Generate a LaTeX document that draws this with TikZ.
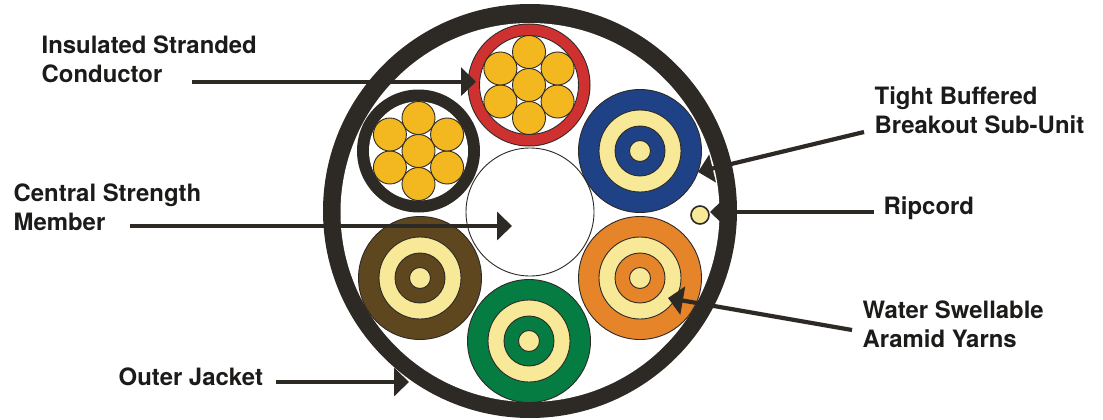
\documentclass[tikz,border=0pt]{standalone}
\usepackage{fontspec}
\setmainfont{TeX Gyre Heros}
\usetikzlibrary{arrows.meta,calc}
\definecolor{ink}{HTML}{2D2A26}
\definecolor{textink}{HTML}{1C1B1A}
\definecolor{strand}{HTML}{F3B71F}
\definecolor{cream}{HTML}{F8E998}
\definecolor{cred}{HTML}{CF3030}
\definecolor{cblue}{HTML}{1F4286}
\definecolor{corange}{HTML}{E6842A}
\definecolor{cbrown}{HTML}{5E471E}
\definecolor{cgreen}{HTML}{047C42}
\tikzset{
 x=1pt,y=-1pt,
 disc/.style={circle,draw=ink,line width=0.9pt,inner sep=0pt,outer sep=0pt,minimum size=#1*2pt},
 lbl/.style={font=\bfseries\fontsize{23.9}{29}\selectfont,text=textink,align=left,anchor=west,inner sep=0pt},
 pointer/.style={draw=ink,line width=4.2pt,-{Triangle[length=15pt,width=28pt]}},
}
\newcommand{\strands}[2]{%
 \foreach \a in {30,90,150,210,270,330}
  \node[disc=16.5,fill=strand] at ($(#1,#2)+(\a:33)$) {};
 \node[disc=16.5,fill=strand] at (#1,#2) {};
}
\newcommand{\subunit}[4]{%
 \node[disc=61.5,fill=#4] (#1) at (#2,#3) {};
 \node[disc=41,fill=cream] at (#2,#3) {};
 \node[disc=25,fill=#4] at (#2,#3) {};
 \node[disc=10.5,fill=cream] at (#2,#3) {};
}
\begin{document}
\begin{tikzpicture}
\useasboundingbox (0,0) rectangle (1103,420);
\fill[white] (0,0) rectangle (1103,420);
\node[circle,fill=ink,inner sep=0pt,outer sep=0pt,minimum size=414pt] (jacket) at (530,211) {};
\node[circle,fill=white,inner sep=0pt,outer sep=0pt,minimum size=379pt] (bore) at (530,212.5) {};
\node[disc=64,fill=white] (member) at (530,212) {};
\node[circle,fill=ink,inner sep=0pt,outer sep=0pt,minimum size=123pt] (blackout) at (418.5,151) {};
\node[circle,fill=white,inner sep=0pt,outer sep=0pt,minimum size=99pt] (blackin) at (418.5,151) {};
\node[circle,fill=ink,inner sep=0pt,outer sep=0pt,minimum size=123pt] (redrim) at (529,85) {};
\node[circle,fill=cred,inner sep=0pt,outer sep=0pt,minimum size=121pt] (red) at (529,85) {};
\node[disc=49.5,fill=white] (redin) at (529,85) {};
\strands{529}{85}
\strands{418.5}{151}
\subunit{blue}{640}{151}{cblue}
\subunit{orange}{640}{278}{corange}
\subunit{brown}{420}{278}{cbrown}
\subunit{green}{529}{341}{cgreen}
\node[disc=9,fill=cream,line width=1.6pt] (ripcord) at (700,215) {};
\node[lbl] (lcond) at (41.5,59.5) {Insulated Stranded\\Conductor};
\node[lbl] (lmember) at (13.5,207.5) {Central Strength\\Member};
\node[lbl] (ljacket) at (118.5,377) {Outer Jacket};
\node[lbl] (ltight) at (874.5,110.5) {Tight Buffered\\Breakout Sub-Unit};
\node[lbl] (lrip) at (883.5,208.5) {Ripcord};
\node[lbl] (lwater) at (862.5,324.5) {Water Swellable\\Aramid Yarns};
\coordinate (c1) at (192,81.7); \coordinate (t1) at (476,81.7);
\coordinate (c2) at (130,226); \coordinate (t2) at (512,226);
\coordinate (c3) at (276,382); \coordinate (t3) at (409,382);
\coordinate (c4) at (864,132); \coordinate (t4) at (698,172);
\coordinate (c5) at (874,212); \coordinate (t5) at (710,212);
\coordinate (c6) at (852,330); \coordinate (t6) at (668,298);
\draw[pointer] (c1) -- (t1);
\draw[pointer] (c2) -- (t2);
\draw[pointer] (c3) -- (t3);
\draw[pointer] (c4) -- (t4);
\draw[pointer] (c5) -- (t5);
\draw[pointer] (c6) -- (t6);
\end{tikzpicture}
\end{document}
